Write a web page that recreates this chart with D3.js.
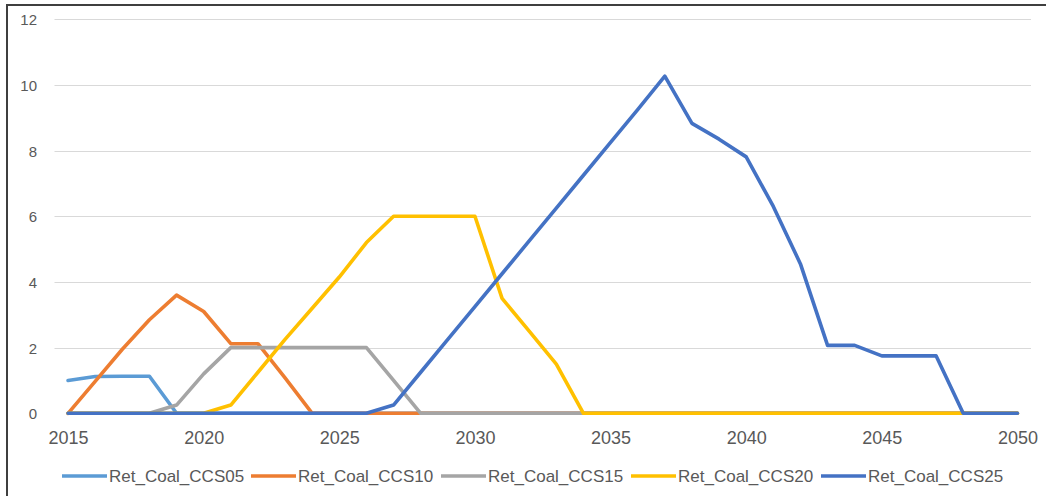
<!DOCTYPE html>
<html>
<head>
<meta charset="utf-8">
<script src="https://cdn.jsdelivr.net/npm/d3@7"></script>
<style>
  html, body { margin: 0; padding: 0; background: #fff; }
  svg { display: block; }
  text { font-family: "Liberation Sans", Arial, sans-serif; fill: #595959; }
</style>
</head>
<body>
<svg id="chart" width="1046" height="496"></svg>
<script>
// Annual retirement of coal-with-CCS capacity, by retirement cohort
const years = [2015, 2016, 2017, 2018, 2019, 2020, 2021, 2022, 2023, 2024,
               2025, 2026, 2027, 2028, 2029, 2030, 2031, 2032, 2033, 2034,
               2035, 2036, 2037, 2038, 2039, 2040, 2041, 2042, 2043, 2044,
               2045, 2046, 2047, 2048, 2049, 2050];

const ccs05 = [1.0, 1.12, 1.13, 1.13, 0, 0, 0, 0, 0, 0,
               0, 0, 0, 0, 0, 0, 0, 0, 0, 0,
               0, 0, 0, 0, 0, 0, 0, 0, 0, 0,
               0, 0, 0, 0, 0, 0];
const ccs10 = [0, 0.97, 1.95, 2.85, 3.6, 3.1, 2.12, 2.12, 1.08, 0,
               0, 0, 0, 0, 0, 0, 0, 0, 0, 0,
               0, 0, 0, 0, 0, 0, 0, 0, 0, 0,
               0, 0, 0, 0, 0, 0];
const ccs15 = [0, 0, 0, 0, 0.25, 1.2, 2.0, 2.0, 2.0, 2.0,
               2.0, 2.0, 1.0, 0, 0, 0, 0, 0, 0, 0,
               0, 0, 0, 0, 0, 0, 0, 0, 0, 0,
               0, 0, 0, 0, 0, 0];
const ccs20 = [0, 0, 0, 0, 0, 0, 0.25, 1.25, 2.25, 3.2,
               4.15, 5.2, 6.0, 6.0, 6.0, 6.0, 3.5, 2.5, 1.5, 0,
               0, 0, 0, 0, 0, 0, 0, 0, 0, 0,
               0, 0, 0, 0, 0, 0];
const ccs25 = [0, 0, 0, 0, 0, 0, 0, 0, 0, 0,
               0, 0, 0.25, 1.25, 2.25, 3.25, 4.25, 5.25, 6.25, 7.25,
               8.25, 9.25, 10.27, 8.83, 8.35, 7.81, 6.3, 4.55, 2.07, 2.07,
               1.75, 1.75, 1.75, 0, 0, 0];

const seriesNames = ["Ret_Coal_CCS05", "Ret_Coal_CCS10", "Ret_Coal_CCS15", "Ret_Coal_CCS20", "Ret_Coal_CCS25"];
const seriesValues = [ccs05, ccs10, ccs15, ccs20, ccs25];
const seriesColors = ["#5B9BD5", "#ED7D31", "#A5A5A5", "#FFC000", "#4472C4"];

const yTicks = [0, 2, 4, 6, 8, 10, 12];
const xTickLabels = [2015, 2020, 2025, 2030, 2035, 2040, 2045, 2050];

const svg = d3.select("#chart");
const plot = { left: 54.5, right: 1031, top: 19.3, bottom: 413.3 };

// Category axis: each year sits in the middle of its slot
const x = d3.scalePoint().domain(years).range([plot.left, plot.right]).padding(0.5);
const y = d3.scaleLinear().domain([0, 12]).range([plot.bottom, plot.top]);

// Outer frame (left and top edges)
svg.append("path")
  .attr("d", "M7,496 V5 H1046")
  .attr("fill", "none")
  .attr("stroke", "#3f3f3f")
  .attr("stroke-width", 2);

// Horizontal gridlines
svg.append("g")
  .selectAll("line")
  .data(yTicks.filter(d => d > 0))
  .join("line")
  .attr("x1", plot.left).attr("x2", plot.right)
  .attr("y1", d => Math.round(y(d)) + 0.5).attr("y2", d => Math.round(y(d)) + 0.5)
  .attr("stroke", "#d9d9d9")
  .attr("stroke-width", 1);

// Y axis labels
const yAxis = d3.axisLeft(y).tickValues(yTicks).tickSize(0).tickPadding(0);
svg.append("g")
  .attr("transform", `translate(37,0)`)
  .call(yAxis)
  .call(g => g.select(".domain").remove())
  .call(g => g.selectAll("text")
    .attr("fill", "#595959")
    .style("font-size", "15px")
    .attr("dy", "0.36em"));

// X axis labels every fifth year
const xAxis = d3.axisBottom(x).tickValues(xTickLabels).tickSize(0).tickPadding(0);
svg.append("g")
  .attr("transform", `translate(0,${plot.bottom + 24})`)
  .call(xAxis)
  .call(g => g.select(".domain").remove())
  .call(g => g.selectAll("text")
    .attr("fill", "#595959")
    .style("font-size", "18px")
    .attr("y", 0)
    .attr("dy", "0.36em"));

// Series lines
const line = d3.line()
  .x((d, i) => x(years[i]))
  .y(d => y(d));

svg.append("g")
  .selectAll("path")
  .data(seriesValues)
  .join("path")
  .attr("d", d => line(d))
  .attr("fill", "none")
  .attr("stroke", (d, i) => seriesColors[i])
  .attr("stroke-width", 3.6)
  .attr("stroke-linejoin", "round")
  .attr("stroke-linecap", "round");

// Legend
const legend = svg.append("g").attr("transform", "translate(0,476)");
const itemX = [62, 251, 441, 631, 821];
const items = legend.selectAll("g")
  .data(seriesNames)
  .join("g")
  .attr("transform", (d, i) => `translate(${itemX[i]},0)`);
items.append("line")
  .attr("x1", 0).attr("x2", 45)
  .attr("y1", 0).attr("y2", 0)
  .attr("stroke", (d, i) => seriesColors[i])
  .attr("stroke-width", 3.6);
items.append("text")
  .attr("x", 47)
  .attr("dy", "0.36em")
  .style("font-size", "17px")
  .text(d => d);
</script>
</body>
</html>
